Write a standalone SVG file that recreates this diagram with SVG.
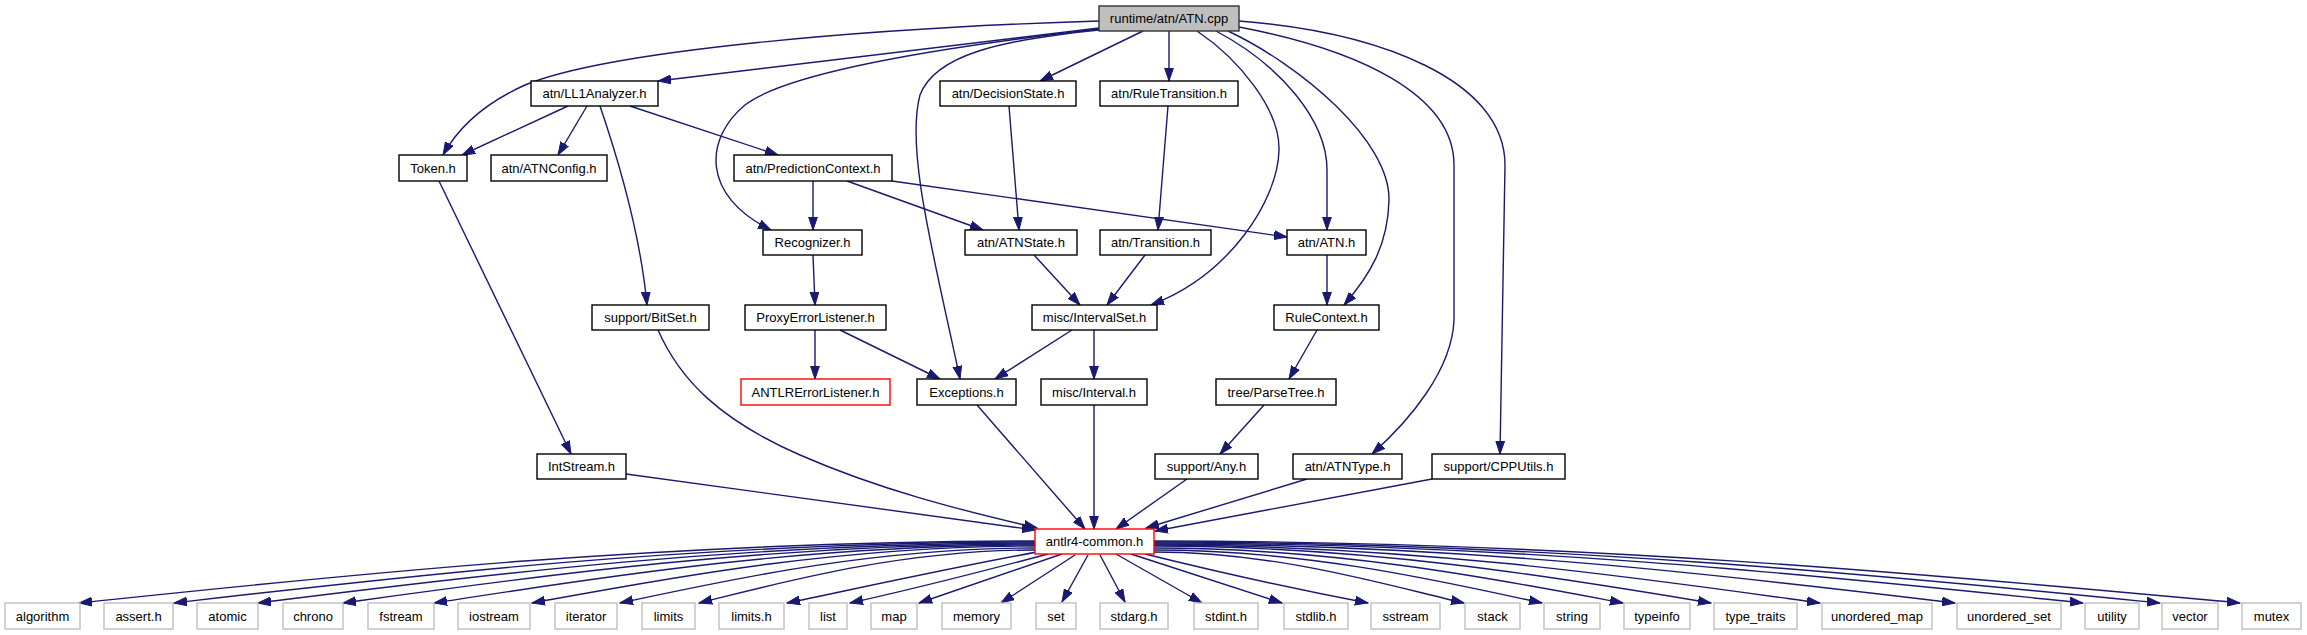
<svg xmlns="http://www.w3.org/2000/svg" width="2307" height="635" viewBox="0 0 2307 635">
<style>
.n rect{fill:#fff;stroke:#000;stroke-width:1.4}
.n.r rect{stroke:#ff0000}
.n.g rect{stroke:#bfbfbf}
.n.s rect{fill:#bfbfbf;stroke:#333}
.n text{font-family:"Liberation Sans",Arial,sans-serif;font-size:13px;fill:#000;text-anchor:middle}
#edges path{fill:none;stroke:#191970;stroke-width:1.4;marker-end:url(#a)}
</style>
<defs>
<marker id="a" markerWidth="14" markerHeight="10" refX="13" refY="5" orient="auto" markerUnits="userSpaceOnUse"><path d="M0,0.6 L13,5 L0,9.4 z" fill="#191970" stroke="#191970" stroke-width="1"/></marker>
</defs>
<rect width="2307" height="635" fill="#fff"/>
<g id="edges">
<path d="M1099,21 C870,28 610,50 525,85 C485,103 458,128 443,155"/>
<path d="M1099,28 L658,81"/>
<path d="M1099,29 C960,45 790,70 745,105 C705,138 700,195 771,230"/>
<path d="M1099,30 C1000,40 935,55 920,95 C905,150 935,260 960,379"/>
<path d="M1143,31 L1040,81"/>
<path d="M1169,31 L1169,81"/>
<path d="M1197,31 C1240,60 1280,110 1279,150 C1278,200 1230,275 1151,305"/>
<path d="M1216,31 C1280,65 1327,120 1327,170 L1327,230"/>
<path d="M1228,31 C1300,65 1390,140 1389,200 C1388,245 1370,275 1344,305"/>
<path d="M1239,27 C1360,50 1454,95 1454,165 L1454,320 C1452,370 1410,420 1372,454"/>
<path d="M1239,21 C1380,32 1505,80 1505,165 L1500,454"/>
<path d="M568,106 L462,155"/>
<path d="M587,106 L558,155"/>
<path d="M600,106 C615,150 640,230 647,305"/>
<path d="M630,106 L778,155"/>
<path d="M813,181 L813,230"/>
<path d="M847,181 L983,230"/>
<path d="M892,181 L1287,237"/>
<path d="M1009,106 L1019,230"/>
<path d="M1168,106 L1158,230"/>
<path d="M1034,255 L1080,305"/>
<path d="M1145,255 L1107,305"/>
<path d="M1327,255 L1327,305"/>
<path d="M813,255 L815,305"/>
<path d="M439,181 L571,454"/>
<path d="M658,330 C680,380 720,420 800,455 C880,490 960,510 1037,528"/>
<path d="M626,474 L1035,530"/>
<path d="M815,330 L815,379"/>
<path d="M840,330 L940,379"/>
<path d="M1072,330 L995,379"/>
<path d="M1094,330 L1094,379"/>
<path d="M1317,330 L1289,379"/>
<path d="M1264,405 L1220,454"/>
<path d="M977,405 L1085,529"/>
<path d="M1094,405 L1094,529"/>
<path d="M1187,479 L1116,529"/>
<path d="M1307,479 L1146,528"/>
<path d="M1432,479 L1155,531"/>
<path d="M1035,541 C653,541 318,578 79,603"/>
<path d="M1035,542 C691,542 389,578 174,603"/>
<path d="M1035,543 C724,543 452,579 258,603"/>
<path d="M1035,544 C758,544 516,579 343,603"/>
<path d="M1035,545 C795,545 584,580 434,603"/>
<path d="M1035,546 C833,546 658,580 532,603"/>
<path d="M1035,548 C869,548 724,581 620,603"/>
<path d="M1035,550 C901,550 783,582 699,603"/>
<path d="M1037,552 C950,568 850,590 787,603"/>
<path d="M1048,554 C980,572 900,592 850,603"/>
<path d="M1062,554 L919,603"/>
<path d="M1075,555 L1001,603"/>
<path d="M1088,555 L1062,602"/>
<path d="M1100,555 L1125,602"/>
<path d="M1116,554 L1202,603"/>
<path d="M1131,554 L1282,603"/>
<path d="M1145,554 C1230,575 1310,592 1368,603"/>
<path d="M1154,552 C1278,552 1386,585 1464,603"/>
<path d="M1154,550 C1309,550 1445,582 1542,603"/>
<path d="M1154,548 C1342,548 1506,581 1623,603"/>
<path d="M1154,546 C1377,546 1572,580 1711,603"/>
<path d="M1154,545 C1420,545 1654,580 1820,603"/>
<path d="M1154,544 C1474,544 1755,579 1955,603"/>
<path d="M1154,543 C1526,543 1851,579 2083,603"/>
<path d="M1154,542 C1556,542 1908,578 2160,603"/>
<path d="M1154,541 C1588,541 1969,578 2240,603"/>
</g>
<g id="n0" class="n s"><rect x="1099" y="6" width="140" height="25"/><text x="1169" y="23">runtime/atn/ATN.cpp</text></g>
<g id="n1" class="n"><rect x="531" y="81" width="127" height="25"/><text x="594.5" y="98">atn/LL1Analyzer.h</text></g>
<g id="n2" class="n"><rect x="399" y="155" width="68" height="26"/><text x="433" y="172.5">Token.h</text></g>
<g id="n3" class="n"><rect x="491" y="155" width="116" height="26"/><text x="549" y="172.5">atn/ATNConfig.h</text></g>
<g id="n4" class="n"><rect x="592" y="305" width="117" height="25"/><text x="650.5" y="322">support/BitSet.h</text></g>
<g id="n5" class="n"><rect x="734" y="155" width="158" height="26"/><text x="813" y="172.5">atn/PredictionContext.h</text></g>
<g id="n6" class="n"><rect x="763" y="230" width="99" height="25"/><text x="812.5" y="247">Recognizer.h</text></g>
<g id="n7" class="n"><rect x="940" y="81" width="136" height="25"/><text x="1008" y="98">atn/DecisionState.h</text></g>
<g id="n8" class="n"><rect x="1100" y="81" width="138" height="25"/><text x="1169" y="98">atn/RuleTransition.h</text></g>
<g id="n9" class="n"><rect x="965" y="230" width="112" height="25"/><text x="1021" y="247">atn/ATNState.h</text></g>
<g id="n10" class="n"><rect x="1100" y="230" width="111" height="25"/><text x="1155.5" y="247">atn/Transition.h</text></g>
<g id="n11" class="n"><rect x="1287" y="230" width="79" height="25"/><text x="1326.5" y="247">atn/ATN.h</text></g>
<g id="n12" class="n"><rect x="745" y="305" width="141" height="25"/><text x="815.5" y="322">ProxyErrorListener.h</text></g>
<g id="n13" class="n"><rect x="1032" y="305" width="125" height="25"/><text x="1094.5" y="322">misc/IntervalSet.h</text></g>
<g id="n14" class="n"><rect x="1274" y="305" width="105" height="25"/><text x="1326.5" y="322">RuleContext.h</text></g>
<g id="n15" class="n r"><rect x="741" y="379" width="149" height="26"/><text x="815.5" y="396.5">ANTLRErrorListener.h</text></g>
<g id="n16" class="n"><rect x="917" y="379" width="99" height="26"/><text x="966.5" y="396.5">Exceptions.h</text></g>
<g id="n17" class="n"><rect x="1041" y="379" width="106" height="26"/><text x="1094" y="396.5">misc/Interval.h</text></g>
<g id="n18" class="n"><rect x="1216" y="379" width="120" height="26"/><text x="1276" y="396.5">tree/ParseTree.h</text></g>
<g id="n19" class="n"><rect x="537" y="454" width="89" height="25"/><text x="581.5" y="471">IntStream.h</text></g>
<g id="n20" class="n"><rect x="1155" y="454" width="103" height="25"/><text x="1206.5" y="471">support/Any.h</text></g>
<g id="n21" class="n"><rect x="1293" y="454" width="109" height="25"/><text x="1347.5" y="471">atn/ATNType.h</text></g>
<g id="n22" class="n"><rect x="1432" y="454" width="133" height="25"/><text x="1498.5" y="471">support/CPPUtils.h</text></g>
<g id="n23" class="n r"><rect x="1035" y="529" width="119" height="25"/><text x="1094.5" y="546">antlr4-common.h</text></g>
<g id="n24" class="n g"><rect x="5" y="603" width="75" height="26"/><text x="42.5" y="620.5">algorithm</text></g>
<g id="n25" class="n g"><rect x="104" y="603" width="69" height="26"/><text x="138.5" y="620.5">assert.h</text></g>
<g id="n26" class="n g"><rect x="197" y="603" width="61" height="26"/><text x="227.5" y="620.5">atomic</text></g>
<g id="n27" class="n g"><rect x="283" y="603" width="60" height="26"/><text x="313" y="620.5">chrono</text></g>
<g id="n28" class="n g"><rect x="368" y="603" width="66" height="26"/><text x="401" y="620.5">fstream</text></g>
<g id="n29" class="n g"><rect x="458" y="603" width="72" height="26"/><text x="494" y="620.5">iostream</text></g>
<g id="n30" class="n g"><rect x="555" y="603" width="62" height="26"/><text x="586" y="620.5">iterator</text></g>
<g id="n31" class="n g"><rect x="642" y="603" width="53" height="26"/><text x="668.5" y="620.5">limits</text></g>
<g id="n32" class="n g"><rect x="719" y="603" width="65" height="26"/><text x="751.5" y="620.5">limits.h</text></g>
<g id="n33" class="n g"><rect x="809" y="603" width="38" height="26"/><text x="828" y="620.5">list</text></g>
<g id="n34" class="n g"><rect x="871" y="603" width="46" height="26"/><text x="894" y="620.5">map</text></g>
<g id="n35" class="n g"><rect x="942" y="603" width="69" height="26"/><text x="976.5" y="620.5">memory</text></g>
<g id="n36" class="n g"><rect x="1036" y="603" width="40" height="26"/><text x="1056" y="620.5">set</text></g>
<g id="n37" class="n g"><rect x="1100" y="603" width="68" height="26"/><text x="1134" y="620.5">stdarg.h</text></g>
<g id="n38" class="n g"><rect x="1194" y="603" width="64" height="26"/><text x="1226" y="620.5">stdint.h</text></g>
<g id="n39" class="n g"><rect x="1284" y="603" width="64" height="26"/><text x="1316" y="620.5">stdlib.h</text></g>
<g id="n40" class="n g"><rect x="1371" y="603" width="69" height="26"/><text x="1405.5" y="620.5">sstream</text></g>
<g id="n41" class="n g"><rect x="1465" y="603" width="55" height="26"/><text x="1492.5" y="620.5">stack</text></g>
<g id="n42" class="n g"><rect x="1544" y="603" width="56" height="26"/><text x="1572" y="620.5">string</text></g>
<g id="n43" class="n g"><rect x="1624" y="603" width="66" height="26"/><text x="1657" y="620.5">typeinfo</text></g>
<g id="n44" class="n g"><rect x="1714" y="603" width="83" height="26"/><text x="1755.5" y="620.5">type_traits</text></g>
<g id="n45" class="n g"><rect x="1822" y="603" width="110" height="26"/><text x="1877" y="620.5">unordered_map</text></g>
<g id="n46" class="n g"><rect x="1957" y="603" width="104" height="26"/><text x="2009" y="620.5">unordered_set</text></g>
<g id="n47" class="n g"><rect x="2085" y="603" width="54" height="26"/><text x="2112" y="620.5">utility</text></g>
<g id="n48" class="n g"><rect x="2162" y="603" width="56" height="26"/><text x="2190" y="620.5">vector</text></g>
<g id="n49" class="n g"><rect x="2242" y="603" width="59" height="26"/><text x="2271.5" y="620.5">mutex</text></g>
</svg>
